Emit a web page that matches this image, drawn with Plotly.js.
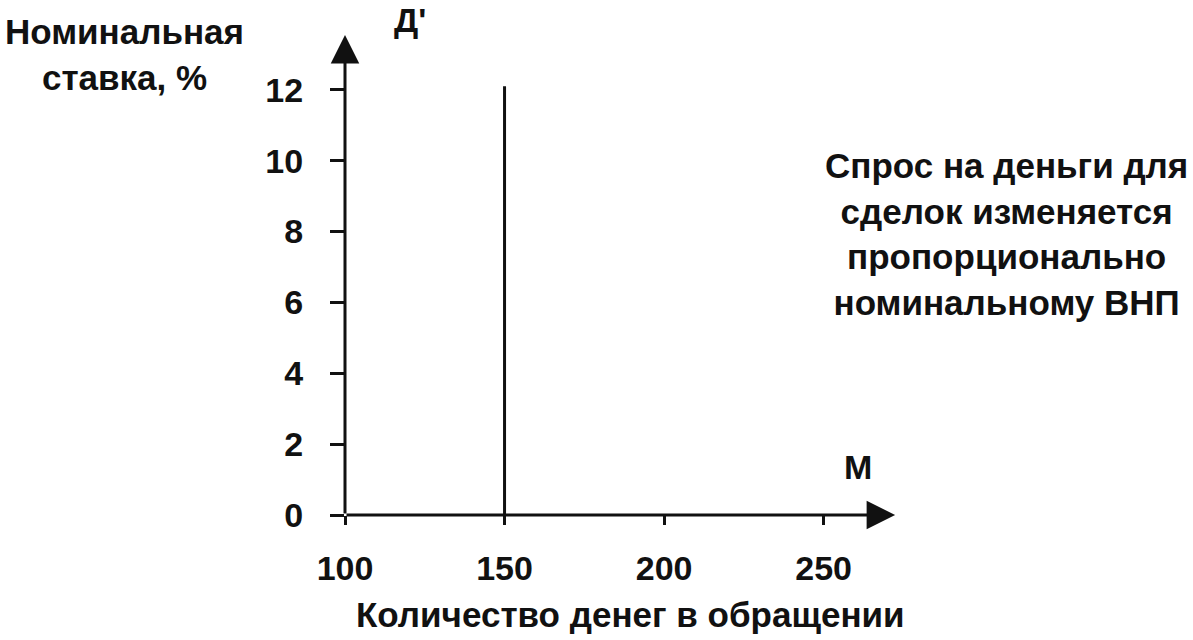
<!DOCTYPE html>
<html>
<head>
<meta charset="utf-8">
<script src="https://cdn.plot.ly/plotly-3.0.1.min.js"></script>
<style>html,body{margin:0;padding:0;background:#fff}#chart{width:1193px;height:640px}</style>
</head>
<body>
<div id="chart"></div>
<script>
// Data
var demandX = [150, 150];
var demandY = [0, 12.1];
var xTicks = [100, 150, 200, 250];
var yTicks = [0, 2, 4, 6, 8, 10, 12];
var xAxisEnd = 272.4;
var yAxisEnd = 13.55;
var yTitleText = 'Номинальная<br>ставка, %';
var xTitleText = 'Количество денег в обращении';
var curveLabel = "Д'";
var xAxisLabel = 'М';
var noteText = 'Спрос на деньги для<br>сделок изменяется<br>пропорционально<br>номинальному ВНП';

var FONT = 'Liberation Sans, Arial, sans-serif';
var INK = '#111';

var traces = [{
  type: 'scatter', mode: 'lines',
  x: demandX, y: demandY,
  line: {color: INK, width: 3},
  hoverinfo: 'skip', showlegend: false
}];

function f(size) { return {family: FONT, size: size, color: INK, weight: 'bold'}; }

var layout = {
  width: 1193, height: 640,
  margin: {l: 345, r: 288, t: 30, b: 125},
  paper_bgcolor: '#fff', plot_bgcolor: '#fff',
  showlegend: false,
  font: f(34),
  xaxis: {
    range: [100, 275.5], showgrid: false, zeroline: false, showline: false,
    tickmode: 'array', tickvals: xTicks, ticktext: xTicks.map(String),
    ticks: 'outside', ticklen: 9, tickwidth: 3, tickcolor: INK,
    ticklabelstandoff: 14,
    tickfont: f(34), fixedrange: true
  },
  yaxis: {
    range: [0, 13.69], showgrid: false, zeroline: false, showline: false,
    tickmode: 'array', tickvals: yTicks, ticktext: yTicks.map(String),
    ticks: 'outside', ticklen: 14, tickwidth: 3, tickcolor: INK,
    ticklabelstandoff: 20,
    tickfont: f(34), fixedrange: true
  },
  annotations: [
    // x axis arrow
    {x: xAxisEnd, y: 0, ax: xTicks[0], ay: 0, xref: 'x', yref: 'y', axref: 'x', ayref: 'y',
     showarrow: true, arrowhead: 2, arrowwidth: 3, arrowsize: 1.9, arrowcolor: INK, text: '', standoff: 0},
    // y axis arrow
    {x: xTicks[0], y: yAxisEnd, ax: xTicks[0], ay: 0, xref: 'x', yref: 'y', axref: 'x', ayref: 'y',
     showarrow: true, arrowhead: 2, arrowwidth: 3, arrowsize: 1.9, arrowcolor: INK, text: '', standoff: 0},
    {text: yTitleText, xref: 'paper', yref: 'paper', x: -0.393, y: 0.95, showarrow: false,
     xanchor: 'center', yanchor: 'middle', align: 'center', font: f(35)},
    {text: curveLabel, xref: 'paper', yref: 'paper', x: 0.116, y: 1.02, showarrow: false,
     xanchor: 'center', yanchor: 'middle', font: f(34)},
    {text: xAxisLabel, xref: 'paper', yref: 'paper', x: 0.916, y: 0.1, showarrow: false,
     xanchor: 'center', yanchor: 'middle', font: f(34)},
    {text: noteText, xref: 'paper', yref: 'paper', x: 1.182, y: 0.58, showarrow: false,
     xanchor: 'center', yanchor: 'middle', align: 'center', font: f(35)},
    {text: xTitleText, xref: 'paper', yref: 'paper', x: 0.509, y: -0.206, showarrow: false,
     xanchor: 'center', yanchor: 'middle', font: f(35)}
  ]
};

Plotly.newPlot('chart', traces, layout, {displayModeBar: false, staticPlot: true});
</script>
</body>
</html>
